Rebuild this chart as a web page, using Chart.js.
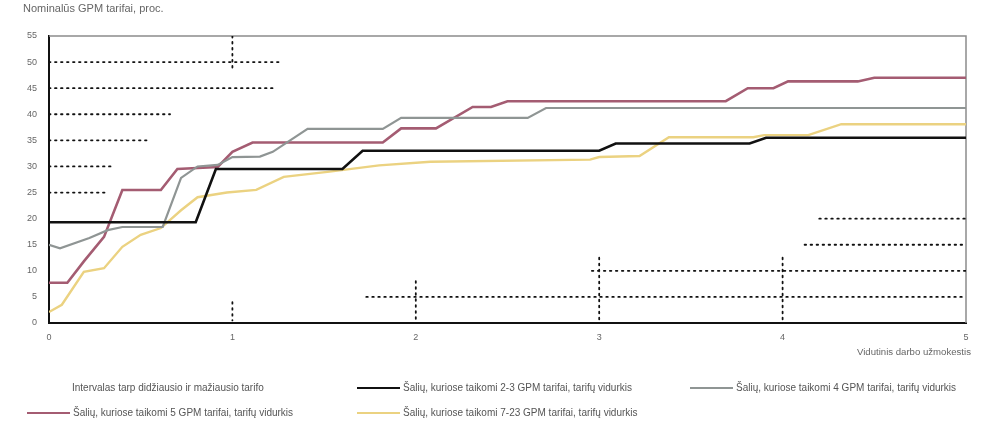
<!DOCTYPE html>
<html>
<head>
<meta charset="utf-8">
<script src="https://cdn.jsdelivr.net/npm/chart.js@4.4.0/dist/chart.umd.min.js"></script>
<style>
    body { margin: 0; background: #fff; font-family: "Liberation Sans", Arial, sans-serif; }
    #wrap { position: relative; width: 983px; height: 448px; }
    #chart { position: absolute; left: 0; top: 0; }
    .title { position: absolute; left: 23px; top: 2px; font-size: 11px; color: #666; }
    .xtitle { position: absolute; left: 857px; top: 346px; font-size: 9.6px; color: #666; }
    .legend { position: absolute; font-size: 10px; color: #555; white-space: nowrap; display: flex; align-items: center; }
    .legend .sw { display: inline-block; width: 43px; margin-right: 3px; }
</style>
</head>
<body>
<div id="wrap">
    <canvas id="chart" width="983" height="448"></canvas>
    <div class="title">Nominalūs GPM tarifai, proc.</div>
    <div class="xtitle">Vidutinis darbo užmokestis</div>
    <div id="legend"></div>
</div>
<script>
// Chart data
const yTicks = [0, 5, 10, 15, 20, 25, 30, 35, 40, 45, 50, 55];
const xTicks = [0, 1, 2, 3, 4, 5];

// 2-3 tarifai
const x23 = [0, 0.80, 0.91, 1.60, 1.71, 3.00, 3.09, 3.82, 3.91, 5];
const y23 = [19.3, 19.3, 29.5, 29.5, 33, 33, 34.4, 34.4, 35.5, 35.5];

// 4 tarifai
const x4 = [0, 0.06, 0.22, 0.32, 0.40, 0.62, 0.72, 0.81, 0.92, 1.00, 1.15, 1.22, 1.41, 1.82, 1.92, 2.61, 2.71, 5];
const y4 = [15, 14.3, 16.3, 17.8, 18.4, 18.4, 27.8, 30, 30.3, 31.8, 31.9, 32.8, 37.2, 37.2, 39.3, 39.3, 41.2, 41.2];

// 5 tarifai
const x5 = [0, 0.10, 0.19, 0.30, 0.40, 0.61, 0.70, 0.92, 1.00, 1.11, 1.82, 1.92, 2.11, 2.31, 2.41, 2.50, 3.69, 3.81, 3.95, 4.03, 4.41, 4.50, 5];
const y5 = [7.7, 7.7, 11.8, 16.5, 25.5, 25.5, 29.5, 29.9, 32.8, 34.6, 34.6, 37.3, 37.3, 41.4, 41.4, 42.5, 42.5, 45, 45, 46.3, 46.3, 47, 47];

// 7-23 tarifai
const x723 = [0, 0.07, 0.19, 0.30, 0.40, 0.50, 0.61, 0.72, 0.81, 0.97, 1.13, 1.28, 1.53, 1.80, 2.08, 2.95, 3.00, 3.22, 3.38, 3.84, 3.90, 4.14, 4.32, 5];
const y723 = [2.1, 3.5, 9.8, 10.5, 14.6, 16.9, 18.2, 21.6, 24.1, 25, 25.5, 28, 29, 30.2, 30.9, 31.3, 31.8, 32, 35.6, 35.6, 36, 36, 38.1, 38.1];

// Intervalas tarp didziausio ir maziausio tarifo (x1, y1, x2, y2)
const intervalSegments = [
    [0, 50, 1.26, 50],
    [0, 45, 1.23, 45],
    [0, 40, 0.66, 40],
    [0, 35, 0.55, 35],
    [0, 30, 0.34, 30],
    [0, 25, 0.31, 25],
    [1, 55, 1, 48.5],
    [1, 4, 1, 0.5],
    [2, 8, 2, 0.5],
    [3, 12.5, 3, 0.5],
    [4, 12.5, 4, 0.5],
    [1.73, 5, 5, 5],
    [2.96, 10, 5, 10],
    [4.12, 15, 5, 15],
    [4.20, 20, 5, 20]
];

const labels = [
    'Intervalas tarp didžiausio ir mažiausio tarifo',
    'Šalių, kuriose taikomi 2-3 GPM tarifai, tarifų vidurkis',
    'Šalių, kuriose taikomi 4 GPM tarifai, tarifų vidurkis',
    'Šalių, kuriose taikomi 5 GPM tarifai, tarifų vidurkis',
    'Šalių, kuriose taikomi 7-23 GPM tarifai, tarifų vidurkis'
];

const colors = ['#111111', '#111111', '#8f9594', '#a45c72', '#ebd281'];
const widths = [1.8, 2.6, 2.2, 2.6, 2.4];

function toPoints(xs, ys) {
    return xs.map((x, i) => ({ x: x, y: ys[i] }));
}

const intervalPoints = [];
intervalSegments.forEach(s => {
    intervalPoints.push({ x: s[0], y: s[1] }, { x: s[2], y: s[3] }, { x: s[2], y: null });
});

function lineSet(i, data) {
    return {
        label: labels[i],
        data: data,
        borderColor: colors[i],
        borderWidth: widths[i],
        pointRadius: 0,
        tension: 0,
        fill: false
    };
}

const intervalSet = lineSet(0, intervalPoints);
intervalSet.borderDash = [1.5, 4.5];
intervalSet.borderCapStyle = 'round';
intervalSet.spanGaps = false;

// frame around the plot area (top/right are grey)
const framePlugin = {
    id: 'frame',
    beforeDatasetsDraw(chart) {
        const a = chart.chartArea;
        const ctx = chart.ctx;
        ctx.save();
        ctx.strokeStyle = '#8c8c8c';
        ctx.lineWidth = 1.5;
        ctx.beginPath();
        ctx.moveTo(a.left, a.top);
        ctx.lineTo(a.right, a.top);
        ctx.lineTo(a.right, a.bottom);
        ctx.stroke();
        ctx.restore();
    }
};

const ctx = document.getElementById('chart').getContext('2d');
const chart = new Chart(ctx, {
    type: 'line',
    data: {
        datasets: [
            intervalSet,
            lineSet(1, toPoints(x23, y23)),
            lineSet(2, toPoints(x4, y4)),
            lineSet(4, toPoints(x723, y723)),
            lineSet(3, toPoints(x5, y5))
        ]
    },
    options: {
        responsive: false,
        animation: false,
        layout: {
            padding: { left: 0, top: 36, right: 17, bottom: 103 }
        },
        plugins: {
            legend: { display: false },
            tooltip: { enabled: false }
        },
        scales: {
            x: {
                type: 'linear',
                min: 0,
                max: 5,
                afterBuildTicks: function(scale) {
                    scale.ticks = xTicks.map(v => ({ value: v }));
                },
                afterFit: function(scale) {
                    scale.height = 22;
                },
                grid: { display: false, drawTicks: false },
                border: { display: true, color: '#111', width: 2 },
                ticks: {
                    color: '#666',
                    padding: 9,
                    maxRotation: 0,
                    font: { family: 'Liberation Sans', size: 9 }
                }
            },
            y: {
                min: 0,
                max: 55,
                afterBuildTicks: function(scale) {
                    scale.ticks = yTicks.map(v => ({ value: v }));
                },
                afterFit: function(scale) {
                    scale.width = 49;
                },
                grid: { display: false, drawTicks: false },
                border: { display: true, color: '#111', width: 2 },
                ticks: {
                    color: '#666',
                    padding: 12,
                    font: { family: 'Liberation Sans', size: 9 }
                }
            }
        }
    },
    plugins: [framePlugin]
});

// legend, 3 columns
const legendPos = [
    { left: 72, top: 382, sw: null },
    { left: 357, top: 382, sw: 1 },
    { left: 690, top: 382, sw: 2 },
    { left: 27, top: 407, sw: 3 },
    { left: 357, top: 407, sw: 4 }
];
const legendEl = document.getElementById('legend');
legendPos.forEach((p, i) => {
    const item = document.createElement('div');
    item.className = 'legend';
    item.style.left = p.left + 'px';
    item.style.top = p.top + 'px';
    if (p.sw !== null) {
        const sw = document.createElement('span');
        sw.className = 'sw';
        sw.style.borderTop = widths[p.sw] + 'px solid ' + colors[p.sw];
        item.appendChild(sw);
    }
    const t = document.createElement('span');
    t.textContent = labels[i];
    item.appendChild(t);
    legendEl.appendChild(item);
});
</script>
</body>
</html>
